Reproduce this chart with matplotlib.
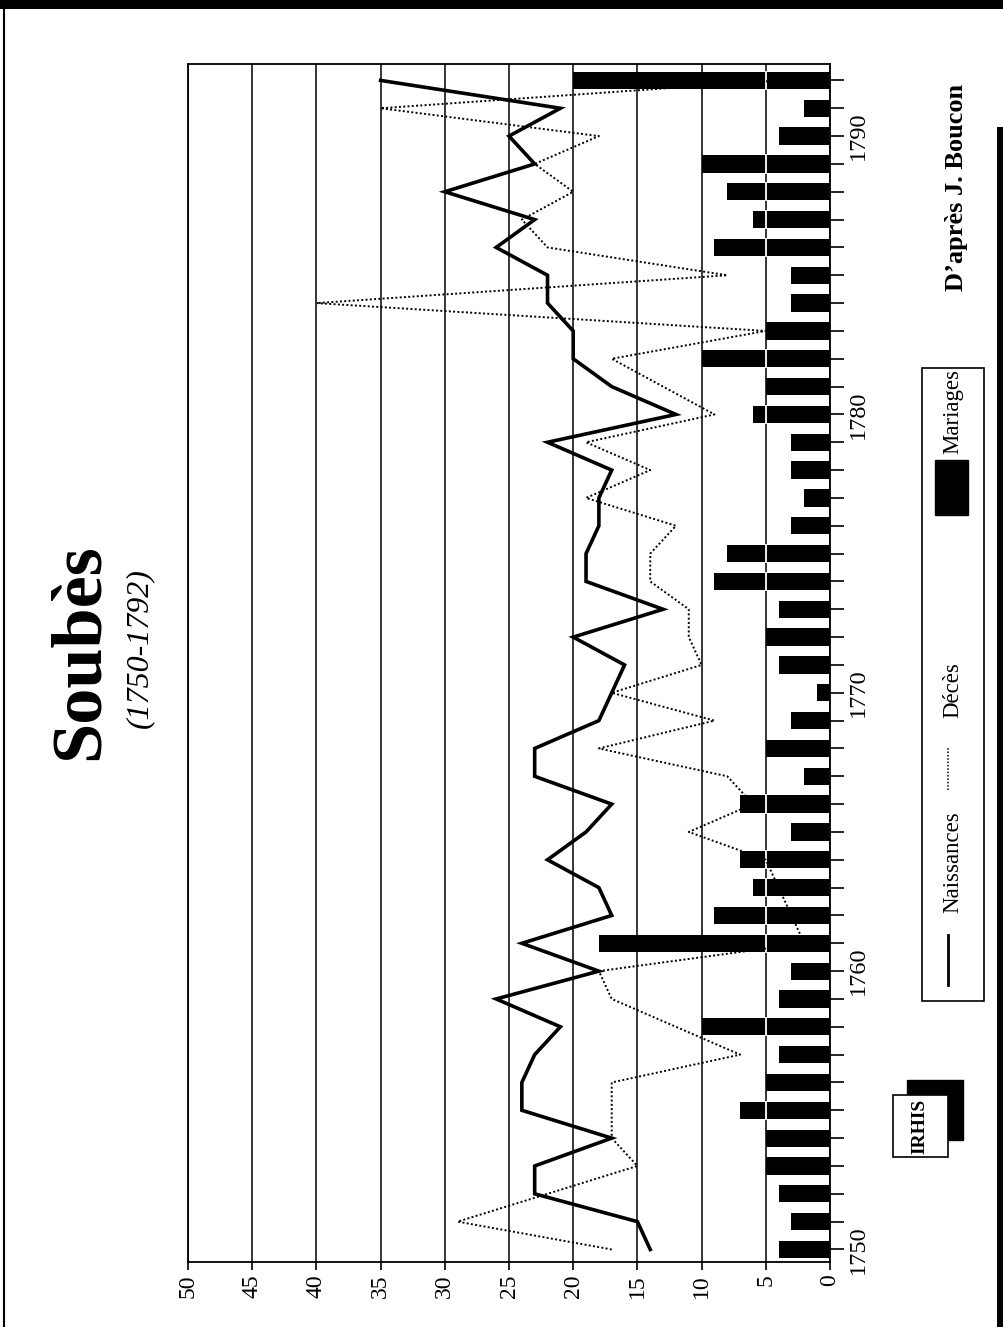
import matplotlib
matplotlib.use('Agg')
import matplotlib.pyplot as plt
from matplotlib.patches import Rectangle
from matplotlib.lines import Line2D

plt.rcParams['font.family'] = ['Liberation Serif', 'DejaVu Serif']

# Soubès, 1750-1792
years = list(range(1750, 1793))
naissances = [14, 15, 23, 23, 17, 24, 24, 23, 21, 26,
              18, 24, 17, 18, 22, 19, 17, 23, 23, 18,
              17, 16, 20, 13, 19, 19, 18, 18, 17, 22,
              12, 17, 20, 20, 22, 22, 26, 23, 30, 23,
              25, 21, 35]
deces = [17, 29, 22, 15, 17, 17, 17, 7, 12, 17,
         18, 2, 3, 4, 5, 11, 6, 8, 18, 9,
         17, 10, 11, 11, 14, 14, 12, 19, 14, 19,
         9, 13, 17, 5, 40, 8, 22, 24, 20, 23,
         18, 35, 4]
mariages = [4, 3, 4, 5, 5, 7, 5, 4, 10, 4,
            3, 18, 9, 6, 7, 3, 7, 2, 5, 3,
            1, 4, 5, 4, 9, 8, 3, 2, 3, 3,
            6, 5, 10, 5, 3, 3, 9, 6, 8, 10,
            4, 2, 20]
value_ticks = list(range(0, 51, 5))
decade_ticks = [1750, 1760, 1770, 1780, 1790]

W, H = 1004, 1327


def fx(px):
    return px / W


def fy(py):
    return 1 - py / H


fig = plt.figure(figsize=(W / 100, H / 100), dpi=100)

# chart is printed rotated: years run upward, values grow to the left
ax = fig.add_axes([fx(188), fy(1262), fx(830) - fx(188), fy(64) - fy(1262)])
ax.set_xlim(50, 0)
ax.set_ylim(1749.55, 1792.59)

bar_h = 0.62
ax.barh(years, mariages, height=bar_h, color='black', zorder=2)
# white streak left by the 5-line across the bars in the print
for y, m in zip(years, mariages):
    if m > 5:
        ax.plot([5, 5], [y - bar_h / 2, y + bar_h / 2], color='white', lw=1.3, zorder=3)

ax.plot(naissances, years, color='black', lw=2.6, zorder=4, solid_joinstyle='miter')
ax.plot(deces, years, color='black', lw=1.4, ls=(0, (1, 1.2)), zorder=4)

ax.set_xticks(value_ticks)
ax.set_xticklabels([str(v) for v in value_ticks], rotation=90, fontsize=17)
ax.grid(axis='x', color='black', lw=1.1, zorder=1)
ax.set_axisbelow(True)

ax.yaxis.tick_right()
ax.set_yticks(decade_ticks)
ax.set_yticklabels([str(y) for y in decade_ticks], rotation=90, va='center', fontsize=17.5)
ax.set_yticks(years, minor=True)
ax.tick_params(axis='y', which='both', length=10, width=1.2, pad=3)
ax.tick_params(axis='x', length=6, width=1.2, pad=3)
for sp in ax.spines.values():
    sp.set_linewidth(1.3)

# titles
fig.text(fx(80), fy(652), 'Soubès', rotation=90, ha='center', va='center',
         fontsize=52, fontweight='bold')
fig.text(fx(140), fy(648), '(1750-1792)', rotation=90, ha='center', va='center',
         fontsize=23, style='italic')
fig.text(fx(957), fy(187), 'D\u2019après J. Boucon', rotation=90, ha='center', va='center',
         fontsize=19, fontweight='bold')

# legend box
fig.patches.append(Rectangle((fx(922), fy(1001)), fx(984) - fx(922), fy(368) - fy(1001),
                             transform=fig.transFigure, facecolor='white',
                             edgecolor='black', lw=1.2))
fig.lines.append(Line2D([fx(948), fx(948)], [fy(985), fy(935)], transform=fig.transFigure,
                        color='black', lw=2))
fig.text(fx(953), fy(862), 'Naissances', rotation=90, ha='center', va='center', fontsize=16.5)
fig.lines.append(Line2D([fx(948), fx(948)], [fy(790), fy(748)], transform=fig.transFigure,
                        color='black', lw=1.1, ls=(0, (1, 1.2))))
fig.text(fx(953), fy(690), 'Décès', rotation=90, ha='center', va='center', fontsize=16.5)
fig.patches.append(Rectangle((fx(935), fy(515)), fx(968) - fx(935), fy(460) - fy(515),
                             transform=fig.transFigure, facecolor='black', edgecolor='black'))
fig.text(fx(953), fy(412), 'Mariages', rotation=90, ha='center', va='center', fontsize=16.5)

# IRHIS logo
fig.patches.append(Rectangle((fx(907), fy(1140)), fx(963) - fx(907), fy(1080) - fy(1140),
                             transform=fig.transFigure, facecolor='black', edgecolor='black'))
fig.patches.append(Rectangle((fx(893), fy(1157)), fx(948) - fx(893), fy(1095) - fy(1157),
                             transform=fig.transFigure, facecolor='white',
                             edgecolor='black', lw=1.2))
fig.text(fx(920), fy(1126), 'IRHIS', rotation=90, ha='center', va='center',
         fontsize=14, fontweight='bold')

# page border of the scan
fig.patches.append(Rectangle((0, fy(9)), 1, fy(0) - fy(9), transform=fig.transFigure,
                             facecolor='black', edgecolor='none'))
fig.patches.append(Rectangle((fx(997), 0), fx(1004) - fx(997), fy(127), transform=fig.transFigure,
                             facecolor='black', edgecolor='none'))
fig.lines.append(Line2D([fx(4), fx(4)], [0, fy(8)], transform=fig.transFigure,
                        color='black', lw=1.5))

fig.savefig('out.png', dpi=100)
